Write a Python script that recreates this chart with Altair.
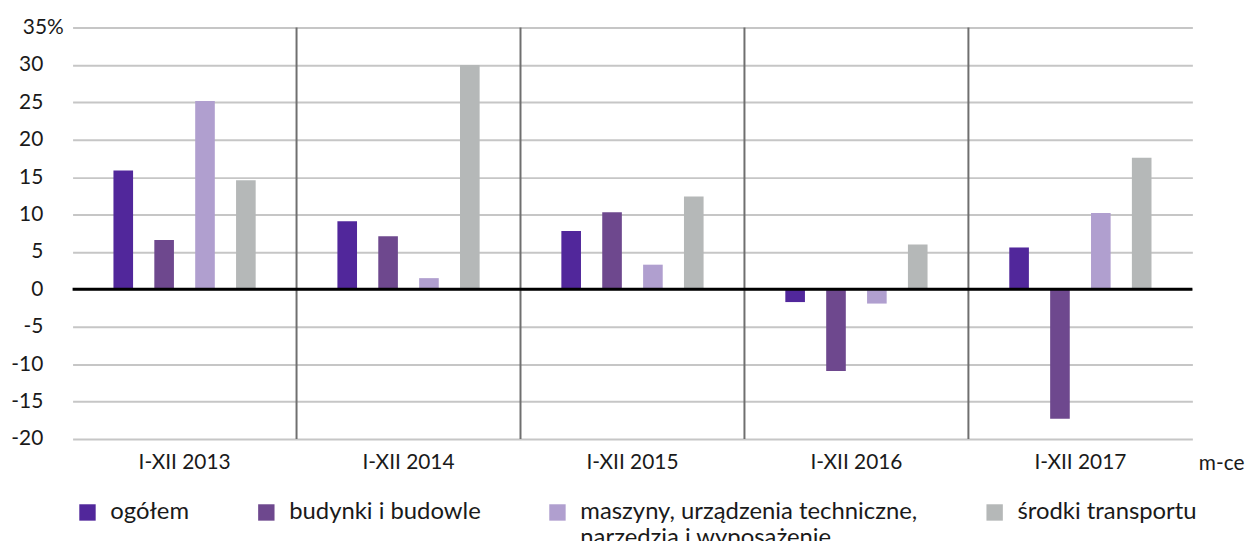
import altair as alt
import pandas as pd

categories = ["I-XII 2013", "I-XII 2014", "I-XII 2015", "I-XII 2016", "I-XII 2017"]
series = ["ogółem", "budynki i budowle",
          "maszyny, urządzenia techniczne, narzędzia i wyposażenie",
          "środki transportu"]
ogolem = [15.9, 9.1, 7.8, -1.7, 5.6]
budynki = [6.6, 7.1, 10.3, -10.9, -17.3]
maszyny = [25.2, 1.5, 3.3, -1.9, 10.2]
transport = [14.6, 30.0, 12.4, 6.0, 17.6]
colors = ["#51279b", "#6e488e", "#b09fcf", "#b5b8b8"]
y_ticks = [-20, -15, -10, -5, 0, 5, 10, 15, 20, 25, 30, 35]

rows = []
for s, vals in zip(series, [ogolem, budynki, maszyny, transport]):
    for c, v in zip(categories, vals):
        rows.append({"cat": c, "series": s, "value": v})
df = pd.DataFrame(rows)
sep_df = pd.DataFrame({"cat": categories[1:]})
zero_df = pd.DataFrame({"value": [0]})

FONT = "Lato"
FS = 21
LFS = 24
TXT = "#1a1a1a"

x_scale = alt.Scale(domain=categories, paddingInner=0, paddingOuter=0)
y_scale = alt.Scale(domain=[-20, 35], nice=False)

bars = alt.Chart(df).mark_bar().encode(
    x=alt.X("cat:N", scale=x_scale, sort=categories,
            axis=alt.Axis(title="m-ce", labelAngle=0, ticks=False, domain=False,
                          labelPadding=13, labelFontSize=FS, labelColor=TXT,
                          labelFont=FONT, titleFont=FONT, titleFontSize=FS,
                          titleFontWeight="normal", titleColor=TXT,
                          titleX=1133, titleY=25, titleAlign="left",
                          titleBaseline="middle", titleAnchor="start", grid=False)),
    xOffset=alt.XOffset("series:N", sort=series,
                        scale=alt.Scale(domain=series, paddingInner=0.52, paddingOuter=1)),
    y=alt.Y("value:Q", scale=y_scale,
            axis=alt.Axis(title=None, values=y_ticks, ticks=False, domain=False,
                          labelPadding=30, labelFontSize=FS, labelColor=TXT,
                          labelFont=FONT, labelOverlap=False,
                          labelExpr="datum.value == 35 ? '35%' : '' + datum.value",
                          labelAlign={"condition": {"test": "datum.value == 35", "value": "center"},
                                      "value": "right"},
                          grid=True, gridColor="#c6c6c6", gridWidth=2)),
    color=alt.Color("series:N", sort=series,
                    scale=alt.Scale(domain=series, range=colors),
                    legend=alt.Legend(title=None, orient="none", legendX=3, legendY=476,
                                      direction="horizontal", columns=4,
                                      symbolType="square", symbolSize=272,
                                      symbolStrokeWidth=0, symbolOpacity=1,
                                      labelFont=FONT, labelFontSize=LFS, labelColor=TXT,
                                      labelOffset=11, columnPadding=65,
                                      labelLimit=700,
                                      labelExpr="datum.label == 'maszyny, urządzenia techniczne, narzędzia i wyposażenie' ? ['maszyny, urządzenia techniczne,', 'narzędzia i wyposażenie'] : [datum.label, ' ']")),
)

seps = alt.Chart(sep_df).mark_rule(color="#6f6f6f", strokeWidth=2).encode(
    x=alt.X("cat:N", scale=x_scale, sort=categories, bandPosition=0, axis=None)
)

zero = alt.Chart(zero_df).mark_rule(color="#000000", strokeWidth=3).encode(
    y=alt.Y("value:Q", scale=y_scale, axis=None)
)

chart = alt.layer(bars, seps, zero).resolve_axis(
    x="independent", y="independent"
).properties(
    width=1127, height=414,
    autosize=alt.AutoSizeParams(type="none"),
    padding={"left": 65, "top": 18, "right": 58, "bottom": 101},
).configure_view(stroke=None)

chart.save("out.html", embed_options={"renderer": "svg", "actions": False})
